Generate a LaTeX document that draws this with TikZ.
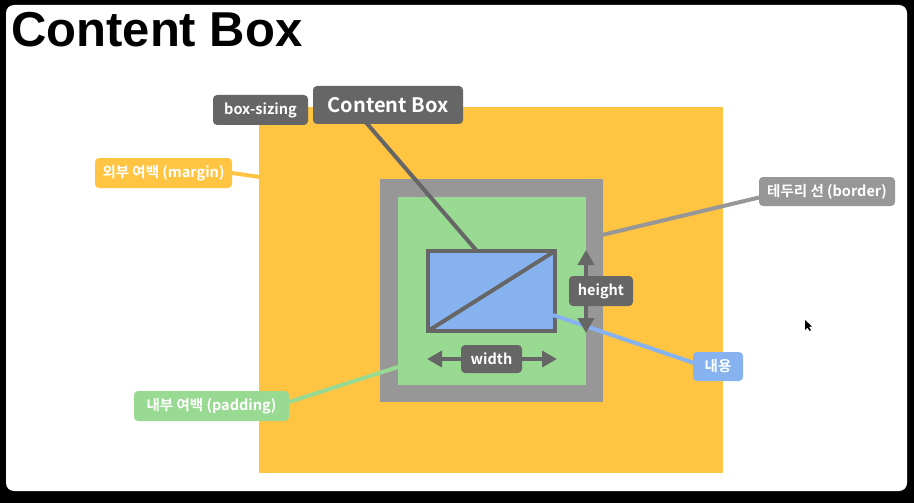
\documentclass[tikz,border=0pt]{standalone}
\usepackage{fontspec}
\setmainfont{Liberation Sans}
\newfontfamily\kr{Noto Sans CJK KR Bold}
\usetikzlibrary{arrows.meta}
\definecolor{morange}{HTML}{FFC542}
\definecolor{mgray}{HTML}{979797}
\definecolor{mgreen}{HTML}{99DA93}
\definecolor{mblue}{HTML}{86B3EF}
\definecolor{mdark}{HTML}{666666}
\begin{document}
\begin{tikzpicture}[x=1pt,y=-1pt,
  area/.style={rectangle,inner sep=0pt,outer sep=0pt},
  lbl/.style={rectangle,rounded corners=4pt,inner sep=0pt,outer sep=0pt,text=white,
    font=\kr\fontsize{14.5}{14.5}\selectfont},
  conn/.style={line width=4pt},
  dim/.style={line width=4pt,draw=mdark,{Triangle[length=15pt,width=16pt]}-{Triangle[length=15pt,width=16pt]}}]
\fill[black] (0,0) rectangle (914,503);
\fill[white,rounded corners=8pt] (6,5) rectangle (907,491);
\useasboundingbox (0,0) rectangle (914,503);
% title
\node[anchor=base west,inner sep=0pt,font=\fontsize{49}{49}\selectfont\bfseries] (title) at (11,47) {Content Box};
% areas
\node[area,fill=morange,minimum width=464pt,minimum height=366pt] (margin) at (491,290) {};
\node[area,fill=mgray,minimum width=223pt,minimum height=223pt] (border) at (491.5,290.5) {};
\node[area,fill=mgreen,minimum width=188pt,minimum height=188pt] (padding) at (491.5,291) {};
% connector end points
\coordinate (mEnd) at (260,177);
\coordinate (bEnd) at (602,235);
\coordinate (pEnd) at (398,367);
\coordinate (cEnd) at (553,315);
\coordinate (cbEnd) at (476,250);
\coordinate (cbFoot) at (351,105);
% labels
\node[lbl,fill=morange,minimum width=137pt,minimum height=30pt] (mlbl) at (163.5,173) {외부 여백 (margin)};
\node[lbl,fill=mgray,minimum width=136pt,minimum height=29pt] (blbl) at (827,191.5) {테두리 선 (border)};
\node[lbl,fill=mgreen,minimum width=155pt,minimum height=30pt] (plbl) at (211.5,406) {내부 여백 (padding)};
% connectors
\draw[conn,morange] (mlbl.east) -- (mEnd);
\draw[conn,mgray] (blbl.west) ++(0,6) -- (bEnd);
\draw[conn,mgreen] (plbl.east) ++(0,-4) -- (pEnd);
% content box
\node[area,fill=mblue,draw=mdark,line width=4pt,minimum width=127pt,minimum height=80pt] (content) at (491.5,291) {};
\draw[conn,mdark] (content.south west) -- (content.north east);
\coordinate (clblW) at (694,363);
\draw[conn,mblue] (cEnd) -- (clblW);
\node[lbl,fill=mblue,minimum width=50pt,minimum height=29pt] (clbl) at (718,366.5) {내용};
% dimension arrows
\draw[dim] (427,359) coordinate (wL) -- (557,359) coordinate (wR);
\node[lbl,fill=mdark,minimum width=61pt,minimum height=28pt] (wlbl) at (491.5,359) {width};
\draw[dim] (586,250) coordinate (hT) -- (586,333) coordinate (hB);
\node[lbl,fill=mdark,minimum width=64pt,minimum height=30pt] (hlbl) at (601,291) {height};
% content box callout
\draw[conn,mdark] (cbFoot) -- (cbEnd);
\node[lbl,fill=mdark,minimum width=95pt,minimum height=30pt] (bslbl) at (260.5,110) {box-sizing};
\node[lbl,fill=mdark,minimum width=150pt,minimum height=38pt,font=\kr\fontsize{20}{20}\selectfont] (cblbl) at (388,105) {Content Box};
% cursor
\fill[black] (805,320) -- (805,330) -- (807.5,327.5) -- (809.5,331) -- (811,330.2) -- (809,326.8) -- (812,326.5) -- cycle;
\end{tikzpicture}
\end{document}
